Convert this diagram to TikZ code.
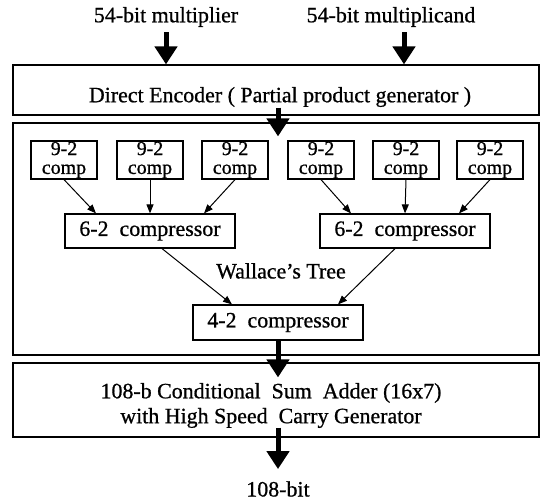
\documentclass[tikz,border=0pt]{standalone}
\usepackage{fontspec}
\setmainfont{Liberation Serif}[FakeBold=0.8]
\usetikzlibrary{positioning,arrows.meta}
\tikzstyle{diagram} = [x = 1bp, y = -1bp]
\tikzstyle{blockStyle} = [draw, line width = 1.2bp, inner sep = 0pt, font = \fontsize{22}{25}\selectfont]
\tikzstyle{wideBlock} = [blockStyle, minimum width = 526bp]
\tikzstyle{compBox} = [blockStyle, minimum width = 66bp, minimum height = 38bp, align = center, font = \fontsize{20}{19}\selectfont]
\tikzstyle{compressorBox} = [blockStyle, minimum width = 170bp, minimum height = 34bp]
\tikzstyle{labelText} = [inner sep = 0pt, font = \fontsize{22}{25}\selectfont]
\tikzstyle{bigArrow} = [line width = 5bp, -{Triangle[width = 22bp, length = 18bp]}]
\tikzstyle{smallArrow} = [line width = 1bp, -{Triangle[width = 7bp, length = 9bp]}]
\begin{document}
\begin{tikzpicture}[diagram]
  \useasboundingbox (0,0) rectangle (541,502);
  % inputs
  \node [labelText] (multiplierText) at (166,17) {54-bit multiplier};
  \node [labelText] (multiplicandText) at (391,17) {54-bit multiplicand};
  \node [wideBlock, minimum height = 50bp] (encoderBox) at (276,90) {};
  \node [labelText] (encoderText) at (280,97) {Direct Encoder ( Partial product generator )};

  % Wallace's tree
  \node [wideBlock, minimum height = 232bp] (treeBox) at (276,239) {};
  \foreach \x [count=\i] in {64,150,235,321,406,490}
    \node [compBox] (comp\i) at (\x,160) {9-2\\comp};
  \node [compressorBox] (sixLeft) at (150,231) {6-2\ \ compressor};
  \node [compressorBox] (sixRight) at (405,231) {6-2\ \ compressor};
  \node [labelText] (treeLabel) at (281,271) {Wallace's Tree};
  \node [compressorBox, minimum height = 35bp] (fourTwo) at (278,322.5) {4-2\ \ compressor};

  % adder and result
  \node [wideBlock, minimum height = 74bp] (adderBox) at (276,400) {};
  \node [labelText, align = center] (adderText) at (271,405.5)
    {108-b Conditional\ \ Sum\ \ Adder (16x7)\\with High Speed\ \ Carry Generator};
  \node [labelText] (resultText) at (278,489) {108-bit};

  \coordinate (multiplicandIn) at ([xshift = 13bp]multiplicandText.south);
  \draw [bigArrow] ([yshift = -5bp]multiplierText.south) -- (multiplierText.south |- encoderBox.north);
  \draw [bigArrow] ([yshift = -5bp]multiplicandIn) -- (multiplicandIn |- encoderBox.north);
  \draw [bigArrow] ([yshift = 8bp]fourTwo.south |- encoderBox.south) -- ([yshift = -14bp]fourTwo.south |- treeBox.north);
  \draw [bigArrow] (fourTwo.south) -- ([yshift = -15bp]fourTwo.south |- adderBox.north);
  \draw [bigArrow] ([yshift = 10bp]fourTwo.south |- adderBox.south) -- ([yshift = 12bp]resultText.north);

  \foreach \src/\dst/\off in {comp1/sixLeft/-54, comp2/sixLeft/0, comp3/sixLeft/54,
                              comp4/sixRight/-54, comp5/sixRight/0, comp6/sixRight/54}
    \draw [smallArrow] (\src.south) -- ([xshift = \off bp]\dst.north);
  \draw [smallArrow] ([xshift = 12bp]sixLeft.south) -- ([xshift = -46bp]fourTwo.north);
  \draw [smallArrow] ([xshift = -10bp]sixRight.south) -- ([xshift = 60bp]fourTwo.north);
\end{tikzpicture}
\end{document}
